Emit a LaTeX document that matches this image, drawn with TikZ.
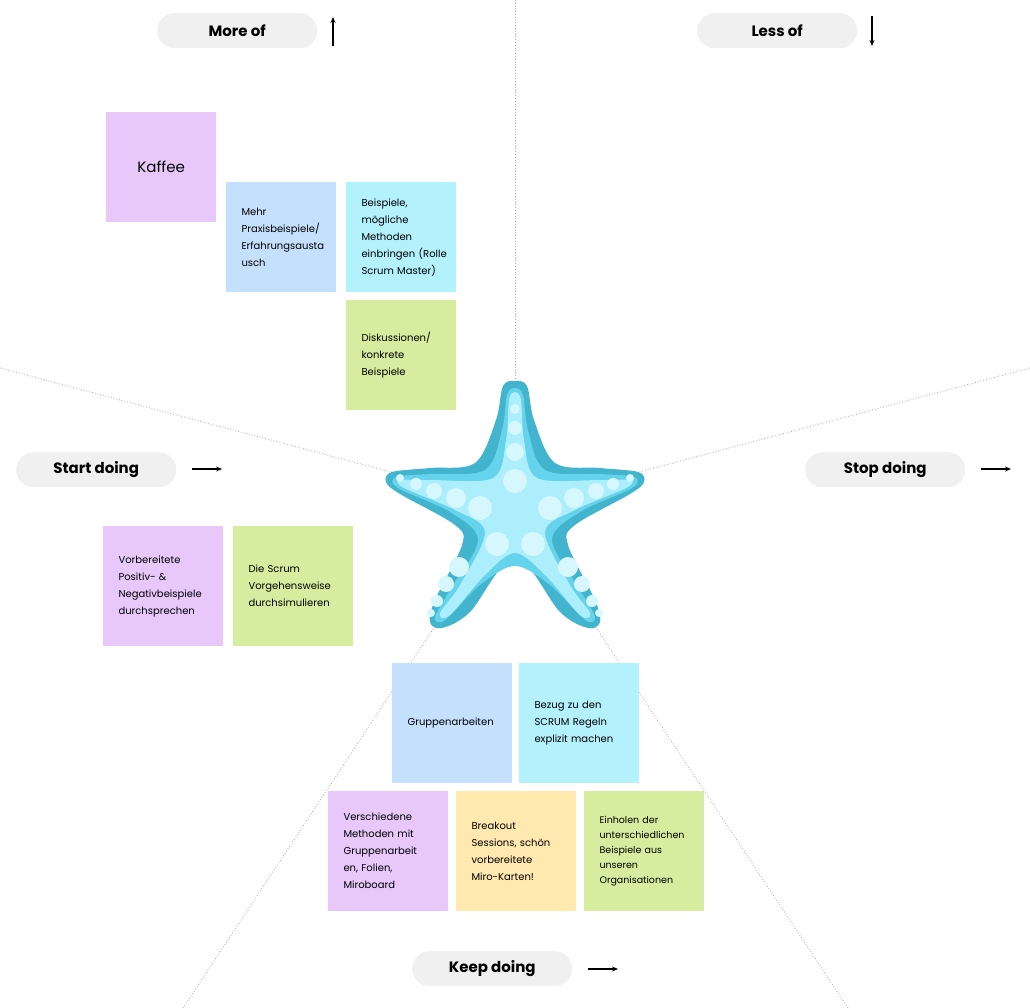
\documentclass[tikz,border=0pt]{standalone}
\usepackage{fontspec}
\setmainfont{Poppins}
\begin{document}
\begin{tikzpicture}[x=1pt,y=-1pt,
  note/.style={minimum width=#1,minimum height=#1,anchor=north west,inner sep=0pt},
  ntext/.style={font=\fontsize{10}{17}\selectfont,align=left,text width=90pt,anchor=west},
  pill/.style={fill=pillgray,rounded corners=17.5pt,minimum width=160pt,minimum height=35pt,anchor=north west,font=\fontsize{15}{18}\selectfont\bfseries},
  guide/.style={draw=gray!70,dotted,line width=0.8pt},
  arr/.style={-{Stealth[length=6pt,width=5pt]},line width=1.3pt}]
\usetikzlibrary{arrows.meta}
\definecolor{pillgray}{HTML}{F0F0F0}
\definecolor{npurple}{HTML}{E8C8FA}
\definecolor{nblue}{HTML}{C5E0FD}
\definecolor{ncyan}{HTML}{B3F1FD}
\definecolor{ngreen}{HTML}{D6ED9F}
\definecolor{nyellow}{HTML}{FFE9AE}
\definecolor{sdark}{HTML}{42B4CE}
\definecolor{smid}{HTML}{66D3EC}
\definecolor{slight}{HTML}{ACEEFB}
\definecolor{sdot}{HTML}{D6F7FD}
\useasboundingbox[fill=white] (0,0) rectangle (1030,1008);
\coordinate (c) at (515,505);
\coordinate (gt) at (515,0);\coordinate (gl) at (0,368);\coordinate (gr) at (1030,368);
\coordinate (gbl) at (183,1008);\coordinate (gbr) at (848,1008);
\draw[guide] (gt)--(c); \draw[guide] (gl)--(c); \draw[guide] (gr)--(c);
\draw[guide] (gbl)--(c); \draw[guide] (gbr)--(c);
% starfish
\fill[sdark] plot[smooth cycle,tension=0.55] coordinates {(515,381)(527,386)(534,420)(555,463)(600,468)(638,472)(644,482)(630,494)(575,525)(568,545)(595,600)(600,622)(588,628)(560,612)(515,557)(470,612)(442,628)(430,622)(435,600)(462,545)(455,525)(400,494)(386,482)(392,472)(430,468)(475,463)(496,420)(503,386)};
\fill[smid] plot[smooth cycle,tension=0.55] coordinates {(515,388)(523,395)(528,430)(545,470)(600,474)(634,477)(632,488)(580,512)(552,540)(580,590)(595,617)(585,620)(550,585)(515,566)(480,585)(445,620)(435,617)(450,590)(478,540)(450,512)(398,488)(396,477)(430,474)(485,470)(502,430)(507,395)};
\fill[slight] plot[smooth cycle,tension=0.55] coordinates {(515,392)(521,400)(524,440)(537,478)(600,480)(630,480)(626,488)(575,510)(545,532)(570,585)(590,613)(580,615)(545,575)(515,553)(485,575)(450,615)(440,613)(460,585)(485,532)(455,510)(404,488)(400,480)(430,480)(493,478)(506,440)(509,400)};
\foreach \x/\y/\r in {515/409/5,515/428/7,515/452/9,515/481/12,
  400/478/4,416/484/6,434/491/8,456/498/10,480/508/12,
  630/478/4,613/484/6,596/491/8,574/498/10,550/508/12,
  497/544/12,459/567/10,446/584/8,437/601/6,431/613/4,
  533/544/12,568/567/10,582/584/8,592/601/6,599/613/4}
  \fill[sdot] (\x,\y) circle (\r);
% pills
\node[pill] (p1) at (157,13) {More of};
\node[pill] (p2) at (697,13) {Less of};
\node[pill] (p3) at (16,452) {Start doing};
\node[pill] (p4) at (805,452) {Stop doing};
\node[pill] (p5) at (412,951) {Keep doing};
\coordinate (a1s) at (333,46);\coordinate (a1e) at (333,17);\draw[arr] (a1s)--(a1e);
\coordinate (a2s) at (872,16);\coordinate (a2e) at (872,46);\draw[arr] (a2s)--(a2e);
\coordinate (a3s) at (192,469);\coordinate (a3e) at (222,469);\draw[arr] (a3s)--(a3e);
\coordinate (a4s) at (981,469);\coordinate (a4e) at (1011,469);\draw[arr] (a4s)--(a4e);
\coordinate (a5s) at (588,969);\coordinate (a5e) at (618,969);\draw[arr] (a5s)--(a5e);
% notes
\newcommand{\stick}[6]{\node[note=#4,fill=#3] (#1) at (#2) {};
  \node[ntext,text width=#5] (#1t) at ([xshift=12pt]#1.west) {#6};}
\node[note=110pt,fill=npurple] (n1) at (106,112) {};
\node[font=\fontsize{15}{18}\selectfont] (n1t) at (n1.center) {Kaffee};
\stick{n2}{226,182}{nblue}{110pt}{92pt}{Mehr\\Praxisbeispiele/\\Erfahrungsausta\\usch}
\stick{n3}{346,182}{ncyan}{110pt}{92pt}{Beispiele,\\mögliche\\Methoden\\einbringen (Rolle\\Scrum Master)}
\stick{n4}{346,300}{ngreen}{110pt}{92pt}{Diskussionen/\\konkrete\\Beispiele}
\stick{n5}{103,526}{npurple}{120pt}{100pt}{Vorbereitete\\Positiv- \&\\Negativbeispiele\\durchsprechen}
\stick{n6}{233,526}{ngreen}{120pt}{100pt}{Die Scrum\\Vorgehensweise\\durchsimulieren}
\stick{n7}{392,663}{nblue}{120pt}{100pt}{Gruppenarbeiten}
\stick{n8}{519,663}{ncyan}{120pt}{100pt}{Bezug zu den\\SCRUM Regeln\\explizit machen}
\stick{n9}{328,791}{npurple}{120pt}{100pt}{Verschiedene\\Methoden mit\\Gruppenarbeit\\en, Folien,\\Miroboard}
\stick{n10}{456,791}{nyellow}{120pt}{100pt}{Breakout\\Sessions, schön\\vorbereitete\\Miro-Karten!}
\node[note=120pt,fill=ngreen] (n11) at (584,791) {};
\node[ntext,font=\fontsize{9.5}{15}\selectfont] (n11t) at ([xshift=12pt]n11.west) {Einholen der\\unterschiedlichen\\Beispiele aus\\unseren\\Organisationen};
\end{tikzpicture}
\end{document}
